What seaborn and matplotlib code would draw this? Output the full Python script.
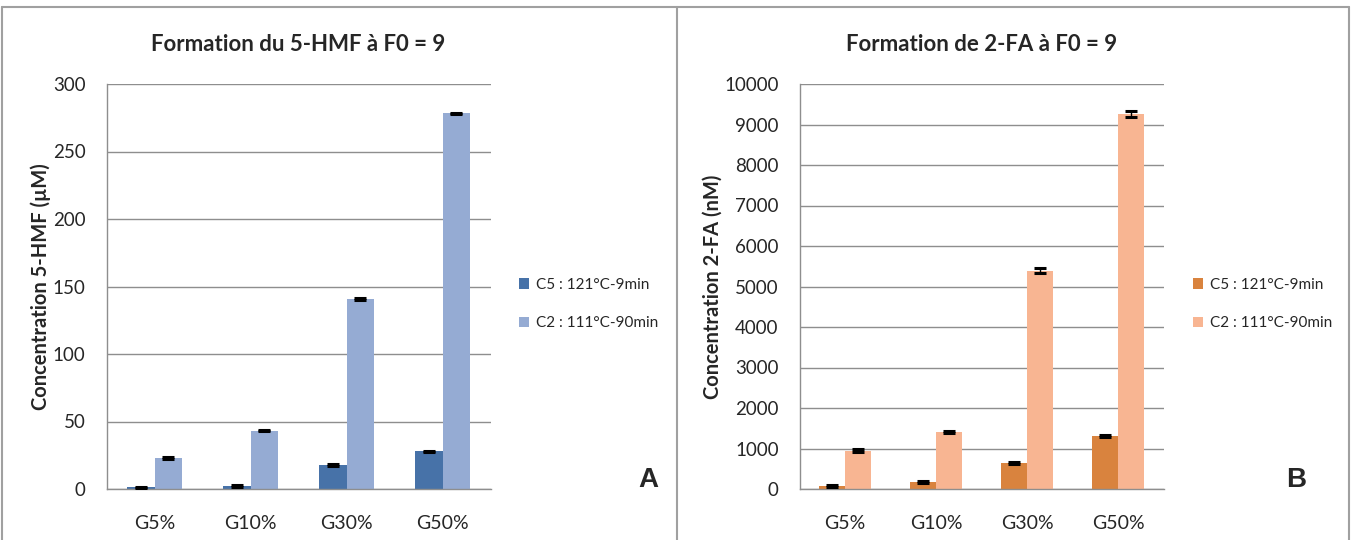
import pandas as pd
import matplotlib
matplotlib.use("Agg")
import matplotlib.pyplot as plt
from matplotlib.lines import Line2D
from matplotlib.ticker import FixedLocator, MultipleLocator
import seaborn as sns

# data
categories = ["G5%", "G10%", "G30%", "G50%"]
conditions = ["C5 : 121°C-9min", "C2 : 111°C-90min"]

hmf_c5 = [1.3, 2.3, 17.8, 27.8]
hmf_c2 = [23.0, 43.3, 140.5, 278.2]
hmf_c5_err = [0.5, 0.5, 0.6, 0.7]
hmf_c2_err = [0.5, 0.5, 0.8, 0.5]

fa_c5 = [75, 170, 645, 1315]
fa_c2 = [950, 1410, 5385, 9265]
fa_c5_err = [20, 20, 25, 30]
fa_c2_err = [30, 25, 60, 80]

GRAY = "#8e8e8e"
FONT = ["Lato", "DejaVu Sans"]


def build_frame(c5, c2):
    rows = []
    for cond, vals in zip(conditions, [c5, c2]):
        for cat, v in zip(categories, vals):
            rows.append({"categorie": cat, "condition": cond, "valeur": v})
    return pd.DataFrame(rows)


def draw_panel(ax, c5, c2, errs, colors, title, ylabel, ymax, ystep, legend_xy):
    df = build_frame(c5, c2)
    sns.barplot(data=df, x="categorie", y="valeur", hue="condition",
                palette=colors, width=0.58, errorbar=None, ax=ax,
                saturation=1, linewidth=0)
    # error bars placed on the bars seaborn drew
    for container, err in zip(ax.containers, errs):
        for bar, e in zip(container, err):
            ax.errorbar(bar.get_x() + bar.get_width() / 2, bar.get_height(),
                        yerr=e, color="black", capsize=4.5, capthick=2.2,
                        elinewidth=1.0, fmt="none", zorder=5)

    ax.set_xlim(-0.5, 3.5)
    ax.set_ylim(0, ymax)
    ax.yaxis.set_major_locator(MultipleLocator(ystep))
    ax.xaxis.set_minor_locator(FixedLocator([-0.5, 0.5, 1.5, 2.5, 3.5]))
    ax.tick_params(axis="x", which="major", length=0, pad=19, labelsize=14)
    ax.tick_params(axis="x", which="minor", length=6, color=GRAY, width=1)
    ax.tick_params(axis="y", length=6, color=GRAY, width=1, pad=9, labelsize=13.5)
    for lbl in ax.get_xticklabels() + ax.get_yticklabels():
        lbl.set_family(FONT)

    ax.grid(axis="y", color=GRAY, linewidth=1)
    ax.grid(axis="x", visible=False)
    ax.set_axisbelow(True)
    for side in ["top", "right"]:
        ax.spines[side].set_visible(False)
    for side in ["left", "bottom"]:
        ax.spines[side].set_color(GRAY)
        ax.spines[side].set_linewidth(1)

    ax.set_xlabel("")
    ax.set_ylabel(ylabel, fontsize=14.5, fontweight="bold", family=FONT, labelpad=1)
    ax.set_title(title, fontsize=16, fontweight="bold", family=FONT, pad=24)

    handles, labels = ax.get_legend_handles_labels()
    ax.legend(handles, labels, loc="center left", bbox_to_anchor=legend_xy,
              bbox_transform=ax.figure.transFigure, frameon=False,
              prop={"family": FONT, "size": 11}, handlelength=0.7,
              handleheight=0.7, handletextpad=0.45, labelspacing=1.6)


sns.set_theme(style="white")
plt.rcParams["font.family"] = FONT

fig = plt.figure(figsize=(13.54, 5.40), dpi=100)
W, H = 1354, 540

ax_a = fig.add_axes([106.5 / W, 1 - 489 / H, 384 / W, 405 / H])
ax_b = fig.add_axes([799.5 / W, 1 - 489 / H, 364 / W, 405 / H])

draw_panel(ax_a, hmf_c5, hmf_c2, [hmf_c5_err, hmf_c2_err],
           ["#4772a8", "#95abd3"], "Formation du 5-HMF à F0 = 9",
           "Concentration 5-HMF (µM)", 300, 50, (505 / W, 1 - 304 / H))
draw_panel(ax_b, fa_c5, fa_c2, [fa_c5_err, fa_c2_err],
           ["#d9833e", "#f8b592"], "Formation de 2-FA à F0 = 9",
           "Concentration 2-FA (nM)", 10000, 1000, (1179 / W, 1 - 304 / H))

# panel letters
fig.text(648 / W, 1 - 480 / H, "A", fontsize=20, fontweight="bold",
         family=["Liberation Sans", "DejaVu Sans"], ha="center", va="center")
fig.text(1296 / W, 1 - 480 / H, "B", fontsize=20, fontweight="bold",
         family=["Liberation Sans", "DejaVu Sans"], ha="center", va="center")

# frames around the two panels
frame = dict(color="#a0a0a0", linewidth=1.5, transform=fig.transFigure)
fig.add_artist(Line2D([2 / W, 1349 / W], [1 - 7 / H, 1 - 7 / H], **frame))
for xpix in [2, 677, 1349]:
    fig.add_artist(Line2D([xpix / W, xpix / W], [0, 1 - 7 / H], **frame))

fig.savefig("out.png", dpi=100)
